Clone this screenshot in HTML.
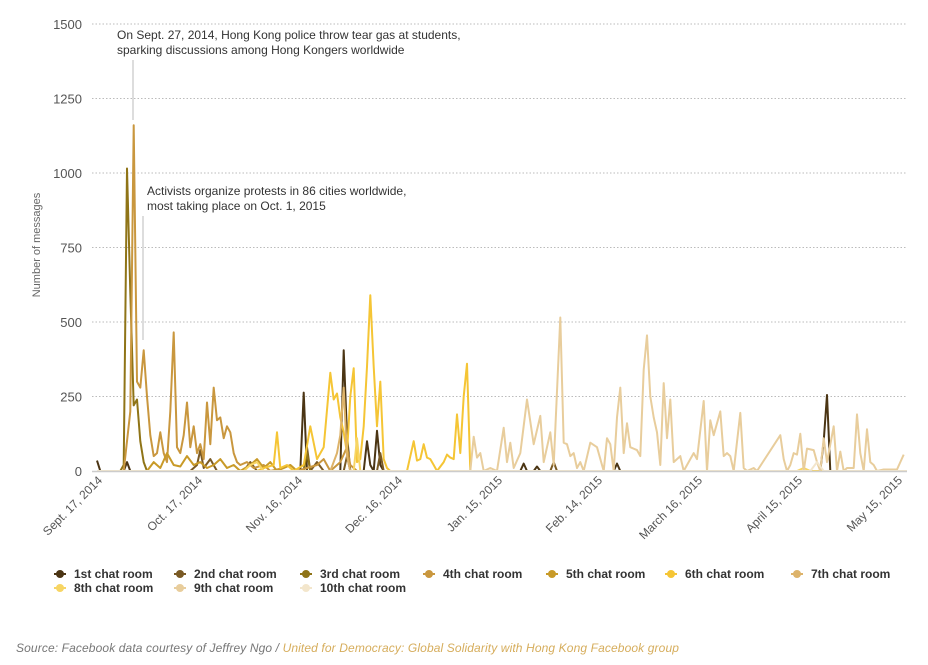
<!DOCTYPE html>
<html><head><meta charset="utf-8"><style>
body{margin:0;background:#fff;font-family:"Liberation Sans",Arial,sans-serif;}
#wrap{position:relative;width:928px;height:665px;overflow:hidden;}
.src{position:absolute;left:16px;top:641px;font-size:12px;font-style:italic;color:#777;letter-spacing:0.12px;}
.src span{color:#d6ad5c;}
</style></head><body>
<div id="wrap">
<svg id="chart" width="928" height="620" style="position:absolute;left:0;top:0"></svg>
<div class="src">Source: Facebook data courtesy of Jeffrey Ngo / <span>United for Democracy: Global Solidarity with Hong Kong Facebook group</span></div>
</div>
<script>
const yTicks = [0,250,500,750,1000,1250,1500];
const xTickDays = [0,30,60,90,120,150,180,210,240];
const xTickLabels = ["Sept. 17, 2014","Oct. 17, 2014","Nov. 16, 2014","Dec. 16, 2014","Jan. 15, 2015","Feb. 14, 2015","March 16, 2015","April 15, 2015","May 15, 2015"];
const seriesNames = ["1st chat room","2nd chat room","3rd chat room","4th chat room","5th chat room","6th chat room","7th chat room","8th chat room","9th chat room","10th chat room"];
const seriesColors = ["#4b3514","#7a5a24","#8f7417","#c9973e","#c89a28","#f5c535","#ddb36a","#f7d564","#e8cd9c","#f3e6cc"];
const s1 = [[0,35],[1,0],[8,0],[9,30],[10,0],[61,0],[62,263],[63,0],[73,0],[74,405],[75,120],[76,0],[80,0],[81,100],[82,20],[83,0],[84,135],[85,20],[86,0],[127,0],[128,25],[129,0],[131,0],[132,15],[133,0],[155,0],[156,25],[157,0],[217,0],[218,100],[219,255],[220,0],[243,0]];
const s2 = [[0,0],[28,0],[30,20],[31,70],[32,10],[34,40],[36,0],[44,0],[46,30],[48,0],[62,0],[63,80],[64,0],[66,30],[68,0],[74,0],[75,50],[76,0],[84,0],[85,60],[86,0],[136,0],[137,30],[138,0],[243,0]];
const s3 = [[0,0],[7,0],[8,20],[9,1015],[10,600],[11,220],[12,240],[13,100],[14,30],[15,0],[62,0],[63,60],[64,0],[243,0]];
const s4 = [[0,0],[7,0],[8,0],[10,200],[11,1160],[12,300],[13,280],[14,405],[15,250],[16,120],[17,50],[18,60],[19,130],[20,60],[21,30],[22,200],[23,465],[24,80],[25,60],[26,120],[27,230],[28,80],[29,150],[30,60],[31,90],[32,40],[33,230],[34,90],[35,280],[36,170],[37,180],[38,110],[39,150],[40,130],[41,60],[42,30],[43,20],[45,30],[47,10],[50,20],[52,0],[56,10],[58,20],[60,0],[66,20],[68,40],[70,0],[73,30],[75,80],[76,20],[78,0],[243,0]];
const s5 = [[0,0],[15,0],[17,30],[19,10],[21,60],[23,20],[25,15],[27,50],[29,20],[31,30],[33,10],[35,20],[37,40],[39,10],[41,20],[43,0],[46,20],[48,40],[50,10],[52,30],[54,0],[58,20],[60,0],[243,0]];
const s6 = [[0,0],[48,0],[50,10],[53,20],[54,130],[55,10],[57,20],[59,0],[62,20],[64,150],[66,40],[68,80],[70,330],[71,240],[72,260],[73,180],[74,130],[75,60],[76,250],[77,345],[78,30],[79,40],[80,150],[81,350],[82,590],[83,350],[84,150],[85,300],[86,40],[87,10],[88,0],[93,0],[95,100],[96,35],[97,40],[98,90],[99,45],[100,40],[101,20],[102,0],[104,30],[105,55],[106,45],[107,40],[108,190],[109,60],[110,250],[111,360],[112,0],[243,0]];
const s7 = [[0,0],[70,0],[72,60],[73,120],[74,280],[75,50],[76,0],[243,0]];
const s8 = [[0,0],[44,0],[46,20],[48,30],[50,0],[77,0],[78,110],[79,0],[210,0],[212,10],[214,0],[243,0]];
const s9 = [[0,0],[112,0],[113,115],[114,45],[115,60],[116,0],[118,10],[120,0],[122,145],[123,30],[124,95],[125,10],[127,60],[129,240],[131,90],[133,185],[134,30],[136,130],[137,20],[139,515],[140,95],[141,90],[142,50],[143,60],[144,10],[145,30],[146,0],[148,95],[150,80],[152,0],[153,110],[154,90],[155,0],[156,180],[157,280],[158,60],[159,160],[160,80],[162,70],[163,50],[164,340],[165,455],[166,250],[167,180],[168,130],[169,20],[170,295],[171,110],[172,240],[173,30],[175,50],[176,0],[178,40],[179,60],[180,40],[182,235],[183,0],[184,170],[185,120],[187,200],[188,50],[189,60],[190,50],[191,0],[193,195],[194,10],[195,0],[197,10],[198,0],[205,120],[206,40],[207,0],[208,20],[209,60],[210,55],[211,125],[212,0],[213,75],[215,70],[216,30],[217,0],[218,110],[219,30],[221,150],[222,0],[223,65],[224,0],[225,10],[227,10],[228,190],[229,60],[230,0],[231,140],[232,30],[233,20],[234,0],[236,5],[240,5],[242,55]];
const s10 = [[0,0],[214,0],[216,30],[218,0],[243,0]];
const allSeries = [s1,s2,s3,s4,s5,s6,s7,s8,s9,s10];

const NS="http://www.w3.org/2000/svg";
const svg=document.getElementById('chart');
const X0=97, PXD=10/3, Y0=471, PYV=447/1500;
function xs(d){return X0+d*PXD;}
function ys(v){return Y0-v*PYV;}
function mk(tag,attrs,parent){const e=document.createElementNS(NS,tag);for(const k in attrs)e.setAttribute(k,attrs[k]);(parent||svg).appendChild(e);return e;}

yTicks.forEach(function(t){
  if(t>0){
    const g=mk('line',{x1:92,x2:907,y1:ys(t),y2:ys(t),stroke:'#bbb','stroke-dasharray':'1.5,2'});
    
    
  }
  const tx=mk('text',{x:82,y:ys(t)+5,'text-anchor':'end','font-size':13,fill:'#555'});
  tx.textContent=t;
  
  
});
const yt=mk('text',{transform:'translate(40,245) rotate(-90)','text-anchor':'middle','font-size':11,fill:'#666'});
yt.textContent='Number of messages';



const a1=mk('line',{x1:133,x2:133,y1:60,y2:120,stroke:'#ddd','stroke-width':2});


const a2=mk('line',{x1:143,x2:143,y1:216,y2:340,stroke:'#ddd','stroke-width':2});



allSeries.forEach(function(s,i){
  const pts=s.map(function(p){return xs(p[0]).toFixed(1)+','+ys(p[1]).toFixed(1);}).join(' ');
  const pl=mk('polyline',{points:pts,fill:'none',stroke:seriesColors[i],'stroke-width':2,'stroke-linejoin':'round'});
  
  
});
const ax=mk('line',{x1:92,x2:907,y1:Y0+0.5,y2:Y0+0.5,stroke:'#ccc','stroke-width':1.5});



xTickDays.forEach(function(d,i){
  const x=xs(d)+6, y=481;
  const t=mk('text',{x:x,y:y,transform:'rotate(-45 '+x+' '+y+')','text-anchor':'end','font-size':12,fill:'#555'});
  t.textContent=xTickLabels[i];
  
  
});

function note(lines,x,y,name){
  const t=mk('text',{x:x,y:y,'font-size':12,fill:'#333'});
  lines.forEach(function(l,k){const ts=mk('tspan',{x:x,dy:k?15:0},t);ts.textContent=l;});
  
  
}
note(["On Sept. 27, 2014, Hong Kong police throw tear gas at students,","sparking discussions among Hong Kongers worldwide"],117,39,'annotation-tear-gas');
note(["Activists organize protests in 86 cities worldwide,","most taking place on Oct. 1, 2015"],147,195,'annotation-protests');

const legX=[60,180,306,429,552,671,797];
seriesNames.forEach(function(n,i){
  const row=i<7?0:1, col=i<7?i:i-7;
  const x=legX[col], y=row?588:574;
  const g=mk('g',{});
  
  
  mk('line',{x1:x-6,x2:x+6,y1:y,y2:y,stroke:seriesColors[i],'stroke-width':2},g);
  mk('circle',{cx:x,cy:y,r:4,fill:seriesColors[i]},g);
  const t=mk('text',{x:x+14,y:y+4,'font-size':12,'font-weight':'bold',fill:'#333'},g);
  t.textContent=n;
});
</script>
</body></html>
